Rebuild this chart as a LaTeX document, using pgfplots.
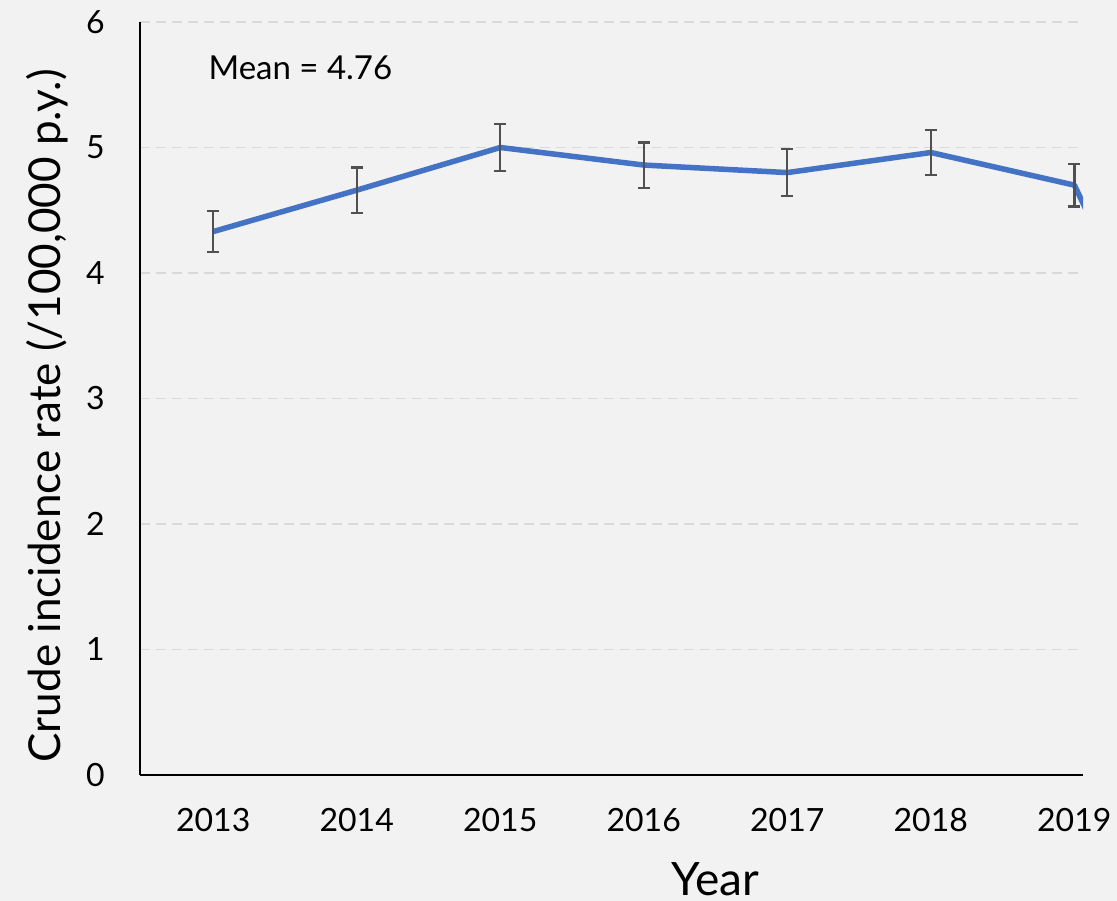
\documentclass[border=0pt]{standalone}
\usepackage{fontspec}
\setmainfont{Lato}
\usepackage{pgfplots}
\pgfplotsset{compat=1.18}
\definecolor{bg}{HTML}{F2F2F2}
\definecolor{lineblue}{HTML}{4472C4}
\definecolor{errgray}{HTML}{505050}
\definecolor{gridgray}{HTML}{D9D9D9}
\begin{document}
\begin{tikzpicture}[x=1pt,y=1pt]
\fill[bg] (0,0) rectangle (1117,901);
\useasboundingbox (0,0) rectangle (1117,901);
\begin{axis}[
  at={(140pt,126pt)}, anchor=south west,
  scale only axis, width=943pt, height=753pt,
  xmin=2012.49, xmax=2019.06,
  ymin=0, ymax=6,
  axis x line=bottom, axis y line=left,
  axis line style={-, black, line width=2pt},
  xtick={2013,...,2019}, ytick={0,1,...,6},
  major tick length=0pt,
  ymajorgrids,
  grid style={gridgray, line width=1.8pt, dash pattern=on 10pt off 6pt},
  /pgf/number format/assume math mode=true,
  /pgf/number format/set thousands separator={},
  xticklabel style={font=\fontsize{32}{36}\selectfont, anchor=north, inner sep=0pt, yshift=-33pt},
  yticklabel style={font=\fontsize{32}{36}\selectfont, anchor=east, inner sep=0pt, xshift=-35pt},
  xlabel={Year},
  xlabel style={font=\fontsize{46}{52}\selectfont, at={(axis description cs:0.61,-0.139)}, anchor=center},
  ylabel={Crude incidence rate (/100,000 p.y.)},
  ylabel style={font=\fontsize{44}{50}\selectfont, at={(axis description cs:-0.098,0.477)}, anchor=center, rotate=0},
  clip=true,
]
\addplot[lineblue, line width=5.5pt, line join=round, no marks,
  error bars/.cd, y dir=both, y explicit,
  error bar style={errgray, line width=2.2pt},
  error mark options={errgray, line width=2.2pt, mark size=6pt, rotate=90}]
  coordinates {
  (2013,4.33) +- (0,0.165)
  (2014,4.66) +- (0,0.18)
  (2015,5.00) +- (0,0.19)
  (2016,4.86) +- (0,0.18)
  (2017,4.80) +- (0,0.185)
  (2018,4.96) +- (0,0.18)
  (2019,4.70) +- (0,0.17)
  (2020,2.30) +- (0,0.15)
  };
\node[anchor=west, font=\fontsize{33}{36}\selectfont] at (axis description cs:0.069,0.939) {Mean = 4.76};
\end{axis}
\end{tikzpicture}
\end{document}
